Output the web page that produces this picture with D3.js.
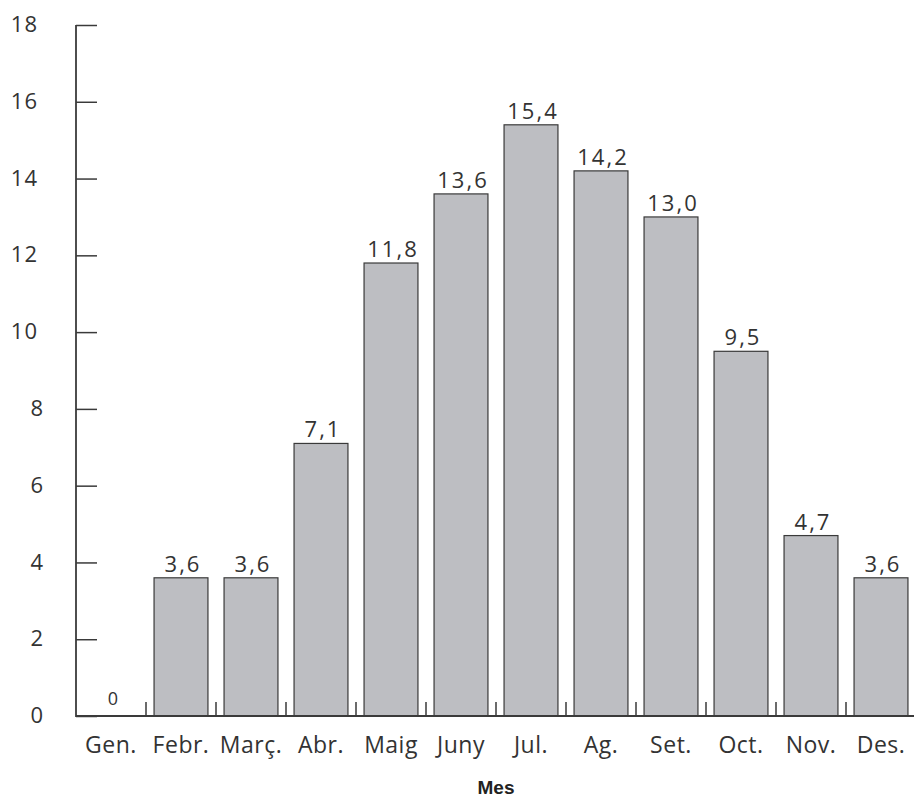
<!DOCTYPE html>
<html>
<head>
<meta charset="utf-8">
<script src="https://cdn.jsdelivr.net/npm/d3@7"></script>
<style>
  body { margin: 0; background: #fff; }
  svg text { font-family: "Open Sans", sans-serif; fill: #333; }
</style>
</head>
<body>
<div id="chart"></div>
<script>
// monthly values
var months = ["Gen.", "Febr.", "Març.", "Abr.", "Maig", "Juny", "Jul.", "Ag.", "Set.", "Oct.", "Nov.", "Des."];
var values = [0, 3.6, 3.6, 7.1, 11.8, 13.6, 15.4, 14.2, 13.0, 9.5, 4.7, 3.6];
var valueLabels = ["0", "3,6", "3,6", "7,1", "11,8", "13,6", "15,4", "14,2", "13,0", "9,5", "4,7", "3,6"];
var yTicks = [0, 2, 4, 6, 8, 10, 12, 14, 16, 18];
var xTitle = "Mes";

var W = 914, H = 797;
var margin = {left: 76, right: 916, top: 25, bottom: 716};

var barColor = "#bdbec2",
    strokeColor = "#3a3a3a";

var svg = d3.select("#chart").append("svg")
    .attr("width", W)
    .attr("height", H);

var data = months.map(function (m, i) {
    return {month: m, value: values[i], label: valueLabels[i]};
});

var x = d3.scaleBand()
    .domain(months)
    .range([margin.left, margin.right])
    .padding(0);

// bars sit inside each band with a small gap
var xb = d3.scaleBand()
    .domain(months)
    .range([margin.left, margin.right])
    .paddingInner(0.23)
    .paddingOuter(0.115);

var y = d3.scaleLinear()
    .domain([0, 18])
    .range([margin.bottom, margin.top]);

// y axis, ticks pointing into the plot
var yAxis = svg.append("g")
    .attr("transform", "translate(" + margin.left + ",0)")
    .call(d3.axisLeft(y).tickValues(yTicks).tickSize(-21).tickPadding(32));
yAxis.select(".domain").remove();
yAxis.selectAll(".tick line")
    .attr("stroke", strokeColor)
    .attr("stroke-width", 1.5);
yAxis.selectAll(".tick text")
    .style("font-size", "22px")
    .style("letter-spacing", "1px")
    .attr("dx", function (d) { return d >= 10 ? -6 : 0; })
    .attr("dy", "0.3em");

// bars
svg.selectAll(".bar")
    .data(data.filter(function (d) { return d.value > 0; }))
    .enter().append("rect")
    .attr("class", "bar")
    .attr("x", function (d) { return xb(d.month); })
    .attr("width", xb.bandwidth())
    .attr("y", function (d) { return y(d.value); })
    .attr("height", function (d) { return margin.bottom - y(d.value); })
    .style("fill", barColor)
    .style("stroke", strokeColor)
    .style("stroke-width", 1.2);

// value labels
svg.selectAll(".val")
    .data(data)
    .enter().append("text")
    .attr("class", "val")
    .attr("x", function (d) { return x(d.month) + x.bandwidth() / 2 + 2; })
    .attr("y", function (d) { return y(d.value) - (d.value > 0 ? 6 : 11); })
    .attr("text-anchor", "middle")
    .style("font-size", function (d) { return d.value > 0 ? "22px" : "18px"; })
    .style("letter-spacing", function (d) { return d.value > 0 ? "2px" : "0px"; })
    .text(function (d) { return d.label; });

// x axis: baseline with small upward ticks between months
var xAxis = svg.append("g")
    .attr("transform", "translate(0," + margin.bottom + ")")
    .call(d3.axisBottom(x).tickSize(0).tickPadding(21));
xAxis.select(".domain").remove();
xAxis.selectAll(".tick text")
    .style("font-size", "23px")
    .style("letter-spacing", "0.5px");

svg.selectAll(".sep")
    .data(months.slice(1))
    .enter().append("line")
    .attr("class", "sep")
    .attr("x1", function (d) { return x(d); })
    .attr("x2", function (d) { return x(d); })
    .attr("y1", margin.bottom)
    .attr("y2", margin.bottom - 14)
    .attr("stroke", strokeColor)
    .attr("stroke-width", 1.5);

svg.append("line")
    .attr("x1", margin.left).attr("x2", margin.right)
    .attr("y1", margin.bottom).attr("y2", margin.bottom)
    .attr("stroke", strokeColor)
    .attr("stroke-width", 1.8);

svg.append("line")
    .attr("x1", margin.left).attr("x2", margin.left)
    .attr("y1", y(18)).attr("y2", margin.bottom + 1)
    .attr("stroke", strokeColor)
    .attr("stroke-width", 1.8);

// axis title
svg.append("text")
    .attr("x", (margin.left + margin.right) / 2)
    .attr("y", 794)
    .attr("text-anchor", "middle")
    .style("font-family", "'Liberation Sans', sans-serif")
    .style("font-weight", "bold")
    .style("font-size", "19px")
    .style("fill", "#222")
    .text(xTitle);
</script>
</body>
</html>
